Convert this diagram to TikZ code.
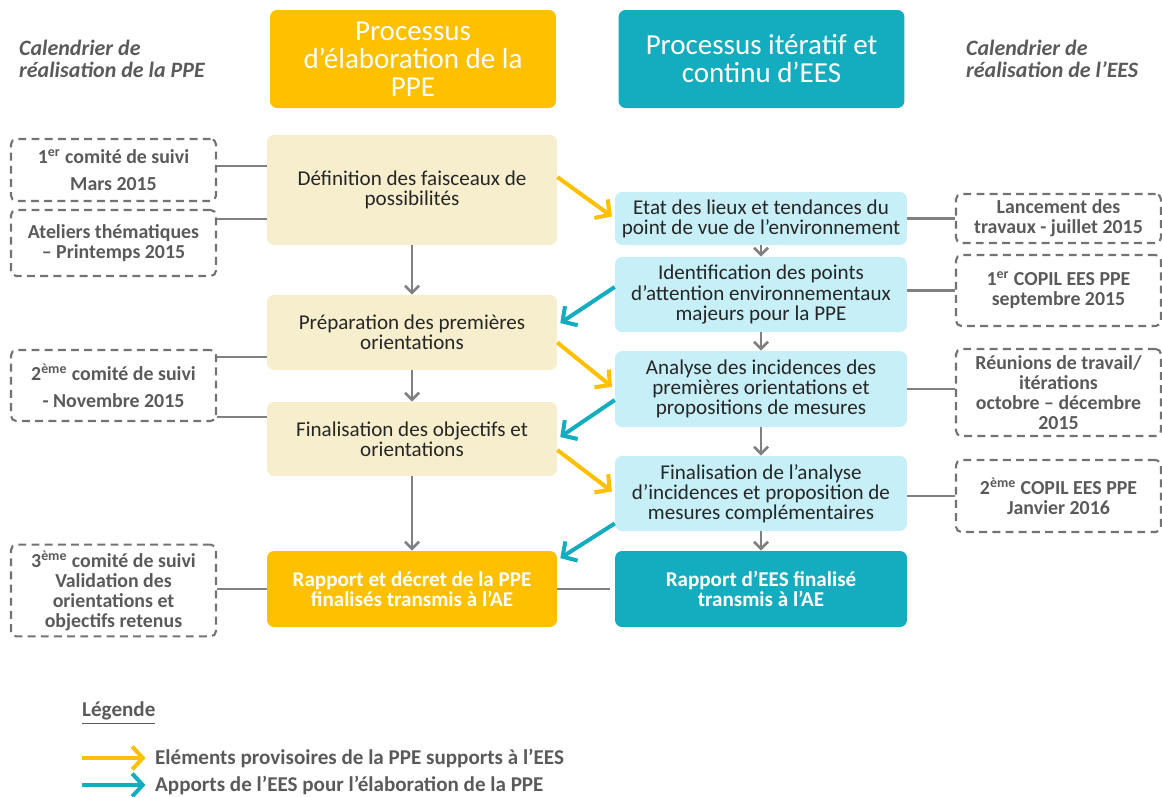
\documentclass[tikz,border=0pt]{standalone}
\usepackage{fontspec}
\setmainfont{Carlito}
\usetikzlibrary{arrows.meta}
\definecolor{ppeorange}{HTML}{FFC000}
\definecolor{eesteal}{HTML}{13ADBF}
\definecolor{ppebeige}{HTML}{F6EECD}
\definecolor{eescyan}{HTML}{C6EFF8}
\definecolor{linegray}{HTML}{808080}
\definecolor{textgray}{HTML}{5A5A5A}
% interligne serre, sans saut supplementaire
\newcommand\tightlines{\lineskiplimit=-6pt\lineskip=0pt}
\tikzset{
  head/.style={rounded corners=4pt,text=white,align=center,minimum width=5.72cm,minimum height=1.96cm,font=\fontsize{16.5}{16}\selectfont\tightlines},
  ppebox/.style={fill=ppebeige,rounded corners=4pt,align=center,minimum width=5.8cm,text=black!85,font=\fontsize{12}{11.5}\selectfont\tightlines},
  eesbox/.style={fill=eescyan,rounded corners=4pt,align=center,minimum width=5.84cm,text=black!85,font=\fontsize{12}{11.5}\selectfont\tightlines},
  endbox/.style={rounded corners=4pt,align=center,minimum height=1.52cm,text=white,font=\bfseries\fontsize{12}{11.5}\selectfont\tightlines},
  datebox/.style={draw=linegray!90!black,line width=1.2pt,dash pattern=on 4.5pt off 3pt,rounded corners=3pt,text=textgray,align=center,minimum width=4.1cm,font=\bfseries\fontsize{11.3}{11.4}\selectfont\tightlines},
  cal/.style={text=textgray,align=left,anchor=west,font=\bfseries\itshape\fontsize{12.5}{12.5}\selectfont\tightlines},
  legtext/.style={anchor=west,text=textgray,font=\bfseries\fontsize{12}{12}\selectfont},
  link/.style={draw=linegray,line width=1.5pt},
  flow/.style={link,-{Straight Barb[length=4pt,width=8pt]}},
  give/.style={line width=2.3pt,shorten >=2pt,-{Straight Barb[length=6pt,width=13pt]}},
}
\begin{document}
\begin{tikzpicture}[x=0.02cm,y=-0.02cm]
\useasboundingbox (0,0) rectangle (1162,796);
% titres des deux colonnes
\node[head,fill=ppeorange] (hppe) at (413,59) {Processus\\d'élaboration de la\\PPE};
\node[head,fill=eesteal] (hees) at (761.5,59) {Processus itératif et\\continu d'EES};
\node[cal] (calppe) at (13,59) {Calendrier de\\réalisation de la PPE};
\node[cal] (calees) at (960,59) {Calendrier de\\réalisation de l'EES};
% colonne PPE
\node[ppebox,minimum height=2.2cm] (def) at (412,190) {Définition des faisceaux de\\possibilités};
\node[ppebox,minimum height=1.5cm] (prep) at (412,332.5) {Préparation des premières\\orientations};
\node[ppebox,minimum height=1.48cm] (fin) at (412,439) {Finalisation des objectifs et\\orientations};
\node[endbox,fill=ppeorange,minimum width=5.8cm] (rppe) at (412,589) {Rapport et décret de la PPE\\finalisés transmis à l’AE};
% colonne EES
\node[eesbox,minimum height=1.06cm] (etat) at (761,218.5) {Etat des lieux et tendances du\\point de vue de l'environnement};
\node[eesbox,minimum height=1.5cm] (ident) at (761,294.5) {Identification des points\\d’attention environnementaux\\majeurs pour la PPE};
\node[eesbox,minimum height=1.52cm] (ana) at (761,389) {Analyse des incidences des\\premières orientations et\\propositions de mesures};
\node[eesbox,minimum height=1.5cm] (finana) at (761,493.5) {Finalisation de l’analyse\\d’incidences et proposition de\\mesures complémentaires};
\node[endbox,fill=eesteal,minimum width=5.84cm] (rees) at (761,589) {Rapport d’EES finalisé\\transmis à l’AE};
% calendrier PPE
\node[datebox,minimum height=1.24cm] (comite1) at (113.5,170) {1\textsuperscript{er} comité de suivi\\[4pt]Mars 2015};
\node[datebox,minimum height=1.32cm] (ateliers) at (113.5,243) {Ateliers thématiques\\– Printemps 2015};
\node[datebox,minimum height=1.42cm] (comite2) at (113.5,385.5) {2\textsuperscript{ème} comité de suivi\\[4pt]- Novembre 2015};
\node[datebox,minimum height=1.82cm] (comite3) at (113.5,590.5) {3\textsuperscript{ème} comité de suivi\\Validation des\\orientations et\\objectifs retenus};
% calendrier EES
\node[datebox,minimum height=0.98cm] (lance) at (1058.5,218.5) {Lancement des\\travaux - juillet 2015};
\node[datebox,minimum height=1.42cm] (copil1) at (1058.5,290.5) {1\textsuperscript{er} COPIL EES PPE\\septembre 2015};
\node[datebox,minimum height=1.74cm] (reunion) at (1058.5,392.5) {Réunions de travail/\\itérations\\octobre – décembre\\2015};
\node[datebox,minimum height=1.44cm] (copil2) at (1058.5,496) {2\textsuperscript{ème} COPIL EES PPE\\Janvier 2016};
% liens vers les calendriers
\draw[link] ([yshift=0.08cm]comite1.east) -- ([yshift=0.08cm]comite1.east -| def.west);
\draw[link] ([yshift=-0.2cm]ateliers.north east) -- ([yshift=-0.2cm]ateliers.north east -| def.west);
\draw[link] ([yshift=-0.16cm]comite2.north east) -- ([yshift=-0.16cm]comite2.north east -| prep.west);
\draw[link] ([yshift=0.1cm]comite2.south east) -- ([yshift=0.1cm]comite2.south east -| fin.west);
\draw[link] (rppe.west) -- (rppe.west -| comite3.east);
\draw[link] (rppe.east) -- ([xshift=-0.1cm]rees.west);
\draw[link] (etat.east) -- (etat.east -| lance.west);
\draw[link] ([yshift=0.08cm]ident.east) -- ([yshift=0.08cm]ident.east -| copil1.west);
\draw[link] (ana.east) -- (ana.east -| reunion.west);
\draw[link] ([yshift=-0.05cm]finana.east) -- ([yshift=-0.05cm]finana.east -| copil2.west);
% enchainement vertical
\draw[flow] (def) -- (prep);
\draw[flow] (prep) -- (fin);
\draw[flow] (fin) -- (rppe);
\draw[flow] (etat) -- (ident);
\draw[flow] (ident) -- (ana);
\draw[flow] (ana) -- (finana);
\draw[flow] (finana) -- (rees);
% echanges entre PPE et EES
\draw[give,ppeorange] ([yshift=0.26cm]def.east) -- (etat.west);
\draw[give,eesteal] ([yshift=0.15cm]ident.west) -- ([yshift=0.15cm]prep.east);
\draw[give,ppeorange] ([yshift=-0.2cm]prep.east) -- (ana.west);
\draw[give,eesteal] ([yshift=-0.22cm]ana.west) -- (fin.east);
\draw[give,ppeorange] ([yshift=-0.22cm]fin.east) -- (finana.west);
\draw[give,eesteal] ([yshift=-0.6cm]finana.west) -- ([yshift=0.58cm]rppe.east);
% legende
\node[legtext] (leg) at (76,713) {\underline{Légende}};
\coordinate (o1) at (82,758);
\coordinate (o2) at (82,785);
\node[legtext] (lego) at (149,758) {Eléments provisoires de la PPE supports à l’EES};
\node[legtext] (lege) at (149,785) {Apports de l’EES pour l’élaboration de la PPE};
\draw[give,ppeorange] (o1) -- (lego.west);
\draw[give,eesteal] (o2) -- (lege.west);
\end{tikzpicture}
\end{document}
